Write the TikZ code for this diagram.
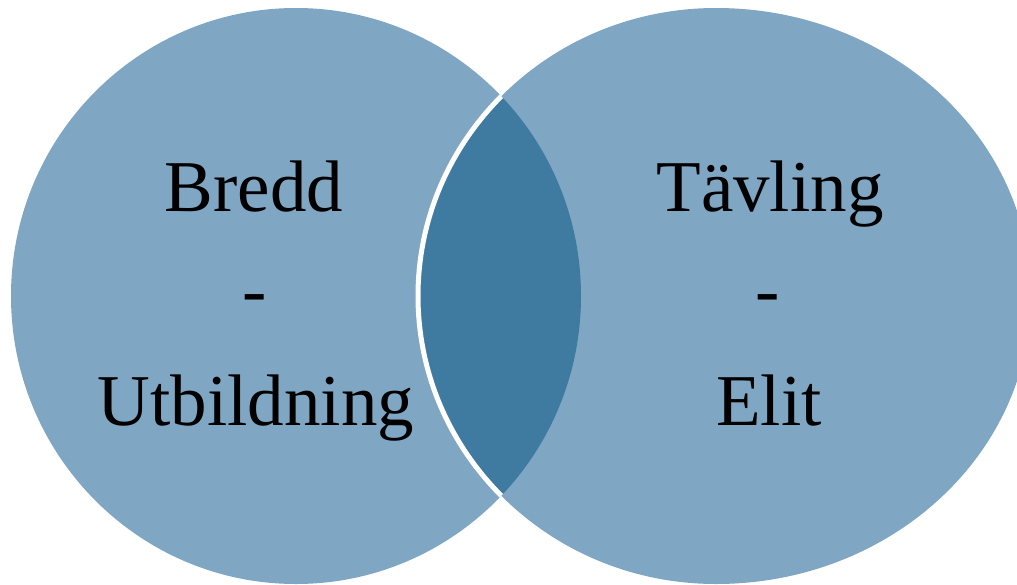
\documentclass[tikz,border=0pt]{standalone}
\usepackage{fontspec}
\setmainfont{Liberation Serif}
\definecolor{vlight}{RGB}{127,166,195}
\definecolor{vdark}{RGB}{63,122,161}
\begin{document}
\begin{tikzpicture}[x=1pt,y=-1pt,
  lbl/.style={anchor=base, font=\fontsize{73}{80}\selectfont, text=black, inner sep=0pt}]
\useasboundingbox (0,0) rectangle (1017,584);
% left circle
\fill[vlight] (296,296) ellipse [x radius=285, y radius=288];
% right circle
\fill[vlight] (716,8) arc[start angle=270, end angle=90, x radius=298, y radius=288]
  arc[start angle=90, end angle=-90, x radius=315, y radius=288] -- cycle;
% overlap
\begin{scope}
  \clip (296,296) ellipse [x radius=285, y radius=288];
  \fill[vdark] (716,8) arc[start angle=270, end angle=90, x radius=298, y radius=288]
    arc[start angle=90, end angle=-90, x radius=315, y radius=288] -- cycle;
  \draw[white, line width=5] (716,8) arc[start angle=270, end angle=90, x radius=298, y radius=288];
\end{scope}
% labels
\node[lbl] (bredd) at (254,211) {Bredd};
\node[lbl] (dashL) at (255,314) {-};
\node[lbl] (utb) at (256,425) {Utbildning};
\node[lbl] (tavl) at (770,211) {Tävling};
\node[lbl] (dashR) at (768,314) {-};
\node[lbl] (elit) at (769,425) {Elit};
\end{tikzpicture}
\end{document}
